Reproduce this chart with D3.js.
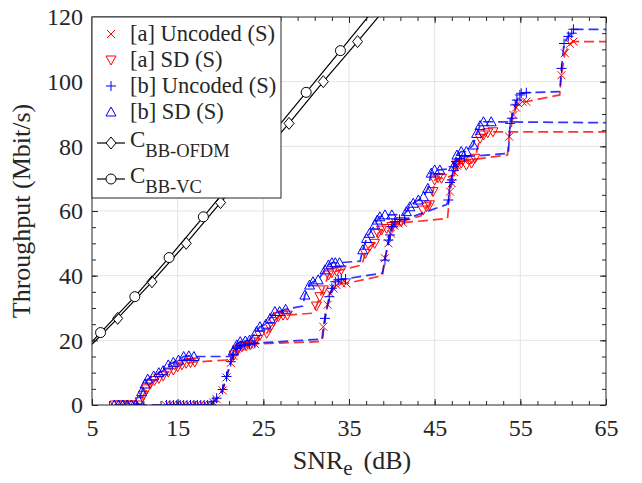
<!DOCTYPE html>
<html>
<head>
<meta charset="utf-8">
<script src="https://cdn.jsdelivr.net/npm/d3@7"></script>
<style>
body { margin: 0; background: #fff; }
svg text { font-family: "Liberation Serif", "Times New Roman", Times, "DejaVu Serif", serif; fill: #262626; }
</style>
</head>
<body>
<div id="chart"></div>
<script>
// axis ticks
const xTicks = [5, 15, 25, 35, 45, 55, 65];
const yTicks = [0, 20, 40, 60, 80, 100, 120];

// [a] Uncoded (S) - markers, then corner points the dashed line passes through
const aUncSnr = [13.6, 14.0, 14.4, 14.8, 15.2, 15.6, 16.0, 16.4, 16.8, 17.2, 17.6, 18.0, 18.4, 18.8,
  19.15, 19.55, 20.25, 20.7, 21.2, 21.5, 21.9, 22.3, 22.85, 23.4, 24.0,
  32.0, 32.5, 32.8, 33.2, 33.55, 34.1, 34.7,
  39.2, 39.6, 39.9, 40.3, 40.75, 41.3,
  46.8, 47.0, 47.3, 47.6, 47.9, 48.5,
  53.7, 54.2, 54.5, 54.75, 55.25, 55.7,
  59.8, 60.2, 60.8, 61.2];
const aUncTput = [0, 0, 0, 0, 0, 0, 0, 0, 0, 0, 0, 0, 0, 0,
  0.8, 1.8, 4.5, 8.5, 13.0, 15.2, 17.2, 18.0, 18.4, 18.7, 18.9,
  24.2, 31.0, 34.5, 36.0, 37.1, 37.6, 37.6,
  45.4, 50.0, 53.0, 55.5, 56.2, 56.4,
  66.0, 68.6, 72.0, 74.0, 75.3, 75.6,
  83.0, 89.7, 92.0, 93.3, 93.8, 93.8,
  102.0, 108.8, 111.7, 112.4];
const aUncKneeSnr = [10.2, 31.8, 38.9, 46.5, 53.5, 59.6, 65];
const aUncKneeTput = [0, 19.6, 40.0, 57.7, 77.3, 95.9, 112.4];

// [a] SD (S)
const aSdSnr = [7.7, 8.2, 8.7, 9.2, 9.7, 10.3,
  10.6, 11.0, 11.4, 11.8, 12.3, 12.8, 13.3, 13.9, 14.5, 15.0, 15.5, 16.0, 16.5, 17.0,
  21.6, 22.0, 22.5, 23.0, 23.5, 24.0, 24.6, 25.4, 25.8, 26.2, 26.75, 27.3, 27.8,
  31.2, 31.6, 32.0, 32.6, 33.0, 33.55, 34.1,
  36.9, 37.4, 38.0, 38.4, 38.8, 39.4, 40.0, 40.55, 41.1,
  43.65, 44.05, 44.4, 44.8, 45.0, 45.4, 45.8,
  47.55, 48.1, 48.7, 49.3, 49.7, 50.3, 50.7, 51.2, 51.8];
const aSdTput = [0, 0, 0, 0, 0, 0,
  1.0, 3.0, 5.0, 6.5, 7.6, 8.2, 9.0, 10.2, 10.8, 11.8, 12.4, 12.9, 13.1, 13.3,
  15.5, 17.0, 18.0, 18.3, 18.6, 19.5, 21.5, 22.2, 24.0, 25.8, 27.3, 27.8, 27.8,
  30.6, 33.5, 35.6, 40.2, 40.9, 41.4, 41.8,
  46.9, 49.0, 50.0, 53.1, 54.1, 54.6, 55.2, 56.2, 56.7,
  60.3, 61.3, 61.9, 66.0, 69.6, 70.3, 70.1,
  74.2, 74.8, 74.2, 74.8, 76.3, 82.5, 83.5, 84.2, 84.5];
const aSdKneeSnr = [21.3, 30.8, 36.5, 43.4, 47.3, 65];
const aSdKneeTput = [14.0, 28.4, 43.3, 58.5, 71.0, 84.5];

// [b] Uncoded (S)
const bUncSnr = [13.7, 14.1, 14.5, 14.9, 15.3, 15.7, 16.1, 16.5, 16.9, 17.3, 17.7, 18.1, 18.5, 18.9,
  19.15, 19.55, 20.25, 20.7, 21.2, 21.5, 21.9, 22.3, 22.85, 23.4, 24.0,
  32.2, 32.7, 33.0, 33.4, 33.75, 34.1, 34.6,
  39.2, 39.6, 39.8, 40.0, 40.35, 40.9, 41.5,
  46.6, 46.8, 47.0, 47.2, 47.5, 47.9, 48.5,
  53.8, 54.0, 54.4, 54.6, 54.95, 55.1, 55.7,
  59.8, 60.1, 60.6, 61.0, 61.2];
const bUncTput = [0, 0, 0, 0, 0, 0, 0, 0, 0, 0, 0, 0, 0, 0,
  1.0, 2.1, 4.8, 8.8, 13.4, 15.5, 17.5, 18.2, 18.6, 18.9, 19.1,
  26.8, 33.5, 36.1, 38.1, 38.7, 38.9, 39.0,
  44.8, 51.0, 52.6, 55.2, 56.7, 57.4, 57.4,
  63.4, 68.8, 69.6, 73.7, 75.3, 76.3, 76.8,
  87.1, 88.7, 92.8, 94.3, 95.9, 96.4, 96.6,
  104.1, 111.8, 114.0, 115.0, 116.2];
const bUncKneeSnr = [10.2, 31.9, 38.9, 46.4, 53.6, 59.6, 65];
const bUncKneeTput = [0, 20.4, 40.8, 62.0, 77.8, 96.9, 116.2];

// [b] SD (S)
const bSdSnr = [7.6, 8.1, 8.6, 9.1, 9.6, 10.1,
  10.45, 10.8, 11.2, 11.5, 12.2, 12.8, 13.3, 13.9, 14.5, 15.1, 15.7, 16.3, 16.9,
  21.5, 21.9, 22.3, 22.9, 23.4, 24.2, 24.6, 25.3, 25.8, 26.35, 26.9, 27.6,
  29.85, 30.4, 30.8, 31.4, 32.2, 32.6, 33.0, 33.4, 33.9,
  36.6, 37.05, 37.4, 38.0, 38.3, 38.6, 39.2, 40.0,
  41.7, 42.1, 42.5, 43.1, 43.7, 44.2, 44.6, 45.0, 45.6,
  47.2, 47.6, 48.1, 48.7, 49.5, 49.9, 50.3, 50.7, 51.6];
const bSdTput = [0, 0, 0, 0, 0, 0,
  1.5, 4.1, 6.5, 8.0, 9.0, 10.0, 10.6, 12.4, 13.2, 13.9, 15.0, 15.2, 15.0,
  16.7, 18.6, 19.6, 19.8, 20.1, 22.7, 24.2, 25.0, 26.8, 28.9, 28.9, 29.6,
  34.0, 37.1, 38.1, 38.7, 41.8, 43.3, 44.0, 44.0, 44.0,
  48.0, 51.5, 53.1, 55.7, 57.2, 58.2, 58.8, 58.8,
  59.8, 61.3, 62.4, 63.4, 64.4, 67.0, 71.7, 72.7, 72.7,
  73.7, 77.3, 78.4, 78.4, 80.4, 84.0, 86.4, 87.6, 87.6];
const bSdKneeSnr = [21.2, 29.6, 36.3, 41.4, 47.0, 65];
const bSdKneeTput = [15.0, 30.6, 44.5, 59.0, 73.2, 87.3];

// capacity curves
const ofdmSnr = [8, 12, 16, 20, 24, 28, 32, 36];
const ofdmTput = [26.8, 38.1, 50.0, 62.6, 75.0, 87.1, 100.0, 112.4];
const ofdmKneeSnr = [5, 40];
const ofdmKneeTput = [18.8, 125.0];

const vcSnr = [6, 10, 14, 18, 22, 26, 30, 34];
const vcTput = [22.4, 33.5, 45.6, 58.2, 71.0, 83.8, 96.7, 109.6];
const vcKneeSnr = [5, 38];
const vcKneeTput = [19.6, 122.6];

const width = 642;
const height = 483;
const margin = { top: 17, right: 36, bottom: 78, left: 92 };
const serif = "'Liberation Serif', 'Times New Roman', Times, serif";

const x = d3.scaleLinear().domain([5, 65]).range([margin.left, width - margin.right]);
const y = d3.scaleLinear().domain([0, 120]).range([height - margin.bottom, margin.top]);

const svg = d3.select("#chart").append("svg")
  .attr("width", width)
  .attr("height", height)
  .attr("font-family", serif);

const axisColor = "#262626";

// grid
svg.append("g")
  .selectAll("line")
  .data(xTicks.slice(1, -1))
  .enter().append("line")
  .attr("x1", d => x(d)).attr("x2", d => x(d))
  .attr("y1", y(0)).attr("y2", y(120))
  .attr("stroke", "#e3e3e3").attr("stroke-width", 1);
svg.append("g")
  .selectAll("line")
  .data(yTicks.slice(1, -1))
  .enter().append("line")
  .attr("x1", x(5)).attr("x2", x(65))
  .attr("y1", d => y(d)).attr("y2", d => y(d))
  .attr("stroke", "#e3e3e3").attr("stroke-width", 1);

svg.append("defs").append("clipPath").attr("id", "plotClip")
  .append("rect")
  .attr("x", x(5)).attr("y", y(120))
  .attr("width", x(65) - x(5)).attr("height", y(0) - y(120));

const plot = svg.append("g").attr("clip-path", "url(#plotClip)");

function markerPath(type) {
  switch (type) {
    case "x": return "M-4,-4L4,4M-4,4L4,-4";
    case "+": return "M-5,0H5M0,-5V5";
    case "v": return "M-5,-4L5,-4L0,5Z";
    case "^": return "M-5,4L5,4L0,-5Z";
    case "d": return "M0,-6L5,0L0,6L-5,0Z";
  }
}

function drawMarker(g, type, cx, cy, color) {
  if (type === "o") {
    g.append("circle")
      .attr("cx", cx).attr("cy", cy).attr("r", 5)
      .attr("fill", "#fff").attr("stroke", color).attr("stroke-width", 1);
  } else {
    g.append("path")
      .attr("d", markerPath(type))
      .attr("transform", `translate(${cx},${cy})`)
      .attr("fill", type === "d" ? "#fff" : "none")
      .attr("stroke", color).attr("stroke-width", 1);
  }
}

const series = [
  { snr: aUncSnr, tput: aUncTput, kSnr: aUncKneeSnr, kTput: aUncKneeTput, color: "#ff0000", marker: "x", dash: true, name: "[a] Uncoded (S)" },
  { snr: aSdSnr, tput: aSdTput, kSnr: aSdKneeSnr, kTput: aSdKneeTput, color: "#ff0000", marker: "v", dash: true, name: "[a] SD (S)" },
  { snr: bUncSnr, tput: bUncTput, kSnr: bUncKneeSnr, kTput: bUncKneeTput, color: "#0000ff", marker: "+", dash: true, name: "[b] Uncoded (S)" },
  { snr: bSdSnr, tput: bSdTput, kSnr: bSdKneeSnr, kTput: bSdKneeTput, color: "#0000ff", marker: "^", dash: true, name: "[b] SD (S)" },
  { snr: ofdmSnr, tput: ofdmTput, kSnr: ofdmKneeSnr, kTput: ofdmKneeTput, color: "#000000", marker: "d", dash: false, name: "C", sub: "BB-OFDM" },
  { snr: vcSnr, tput: vcTput, kSnr: vcKneeSnr, kTput: vcKneeTput, color: "#000000", marker: "o", dash: false, name: "C", sub: "BB-VC" }
];

const line = d3.line().x(d => x(d[0])).y(d => y(d[1]));

series.forEach(s => {
  const pts = s.snr.map((v, i) => [v, s.tput[i]])
    .concat(s.kSnr.map((v, i) => [v, s.kTput[i]]))
    .sort((a, b) => a[0] - b[0]);
  const g = plot.append("g");
  g.append("path")
    .datum(pts)
    .attr("d", line)
    .attr("fill", "none")
    .attr("stroke", s.color)
    .attr("stroke-opacity", s.dash ? 0.8 : 1)
    .attr("stroke-width", s.dash ? 1.7 : 1.2)
    .attr("stroke-dasharray", s.dash ? "10,5" : null);
  s.snr.forEach((v, i) => drawMarker(g, s.marker, x(v), y(s.tput[i]), s.color));
});

// axes (ticks inward on all four sides)
const minorX = d3.range(5, 65.01, 2);
const minorY = d3.range(0, 120.01, 5);

function addAxis(axisFn, scale, ticks, len, transform, labels) {
  const a = axisFn(scale).tickValues(ticks).tickSizeInner(-len).tickSizeOuter(0);
  if (!labels) a.tickFormat("");
  const g = svg.append("g").attr("transform", transform).call(a);
  g.attr("font-family", serif);
  g.select(".domain").remove();
  g.selectAll(".tick line").attr("stroke", axisColor);
  return g;
}

const bottomAx = addAxis(d3.axisBottom, x, xTicks, 6, `translate(0,${y(0)})`, true);
addAxis(d3.axisBottom, x, minorX, 4, `translate(0,${y(0)})`, false);
addAxis(d3.axisTop, x, xTicks, 6, `translate(0,${y(120)})`, false);
addAxis(d3.axisTop, x, minorX, 4, `translate(0,${y(120)})`, false);
const leftAx = addAxis(d3.axisLeft, y, yTicks, 6, `translate(${x(5)},0)`, true);
addAxis(d3.axisLeft, y, minorY, 4, `translate(${x(5)},0)`, false);
addAxis(d3.axisRight, y, yTicks, 6, `translate(${x(65)},0)`, false);
addAxis(d3.axisRight, y, minorY, 4, `translate(${x(65)},0)`, false);

bottomAx.selectAll(".tick text")
  .attr("y", 14)
  .attr("font-size", 24)
  .attr("fill", axisColor);
leftAx.selectAll(".tick text")
  .attr("x", -9)
  .attr("font-size", 24)
  .attr("fill", axisColor);

svg.append("rect")
  .attr("x", x(5)).attr("y", y(120))
  .attr("width", x(65) - x(5)).attr("height", y(0) - y(120))
  .attr("fill", "none").attr("stroke", axisColor).attr("stroke-width", 1);

// axis titles
const xt = svg.append("text")
  .attr("x", 352).attr("y", 469)
  .attr("text-anchor", "middle")
  .attr("font-size", 26);
xt.append("tspan").text("SNR");
xt.append("tspan").attr("dy", 6).attr("font-size", 21).text("e");
xt.append("tspan").attr("dy", -6).attr("dx", 11).text("(dB)");

svg.append("text")
  .attr("transform", `translate(30,${(y(0) + y(120)) / 2}) rotate(-90)`)
  .attr("text-anchor", "middle")
  .attr("font-size", 26)
  .text("Throughput (Mbit/s)");

// legend
const legend = svg.append("g");
legend.append("rect")
  .attr("x", x(5)).attr("y", y(120))
  .attr("width", 189).attr("height", 181)
  .attr("fill", "#fff").attr("stroke", axisColor).attr("stroke-width", 1);

const legendRows = [34, 60, 86, 112, 143, 179];
series.forEach((s, i) => {
  const ly = legendRows[i];
  const g = legend.append("g");
  if (!s.dash) {
    g.append("line")
      .attr("x1", 97).attr("x2", 125).attr("y1", ly).attr("y2", ly)
      .attr("stroke", s.color).attr("stroke-width", 1.2);
  }
  drawMarker(g, s.marker, 111, ly, s.color);
  if (s.sub) {
    const t = g.append("text").attr("x", 130).attr("y", ly + 4).attr("font-size", 23);
    t.append("tspan").text(s.name);
    t.append("tspan").attr("dy", 10).attr("font-size", 18.5).text(s.sub);
  } else {
    g.append("text").attr("x", 130).attr("y", ly + 7).attr("font-size", 22.5).text(s.name);
  }
});
</script>
</body>
</html>
